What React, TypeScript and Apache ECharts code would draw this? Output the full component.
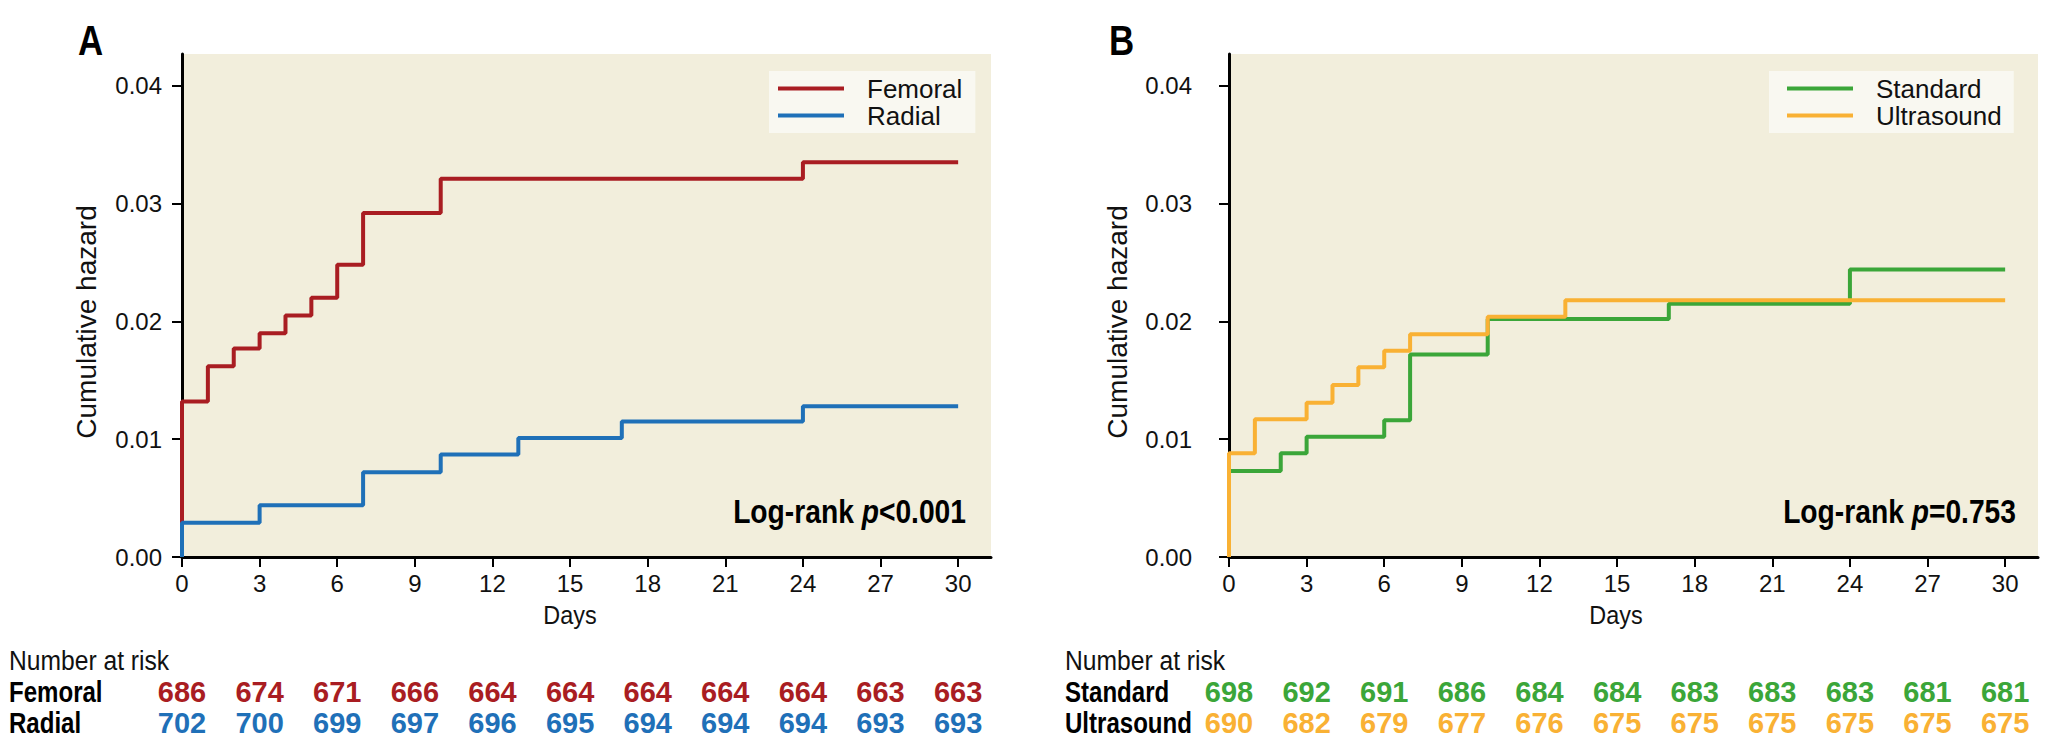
import React, { useEffect, useRef } from "react";
import * as echarts from "echarts";

// ---- data ----
const femoralDays = [0, 0, 1, 2, 3, 4, 5, 6, 7, 10, 24, 30];
const femoralHazard = [0, 0.0132, 0.0162, 0.0177, 0.019, 0.0205, 0.022, 0.0248, 0.0292, 0.0321, 0.0335, 0.0335];
const radialDays = [0, 0, 3, 7, 10, 13, 17, 24, 30];
const radialHazard = [0, 0.0029, 0.0044, 0.0072, 0.0087, 0.0101, 0.0115, 0.0128, 0.0128];
const standardDays = [0, 0, 2, 3, 6, 7, 10, 17, 24, 30];
const standardHazard = [0, 0.0073, 0.0088, 0.0102, 0.0116, 0.0172, 0.0202, 0.0215, 0.0244, 0.0244];
const ultrasoundDays = [0, 0, 1, 3, 4, 5, 6, 7, 10, 13, 30];
const ultrasoundHazard = [0, 0.0088, 0.0117, 0.0131, 0.0146, 0.0161, 0.0175, 0.0189, 0.0204, 0.0218, 0.0218];

const xTicks = [0, 3, 6, 9, 12, 15, 18, 21, 24, 27, 30];
const yTicks = [0, 0.01, 0.02, 0.03, 0.04];

const riskDays = [0, 3, 6, 9, 12, 15, 18, 21, 24, 27, 30];
const femoralRisk = [686, 674, 671, 666, 664, 664, 664, 664, 664, 663, 663];
const radialRisk = [702, 700, 699, 697, 696, 695, 694, 694, 694, 693, 693];
const standardRisk = [698, 692, 691, 686, 684, 684, 683, 683, 683, 681, 681];
const ultrasoundRisk = [690, 682, 679, 677, 676, 675, 675, 675, 675, 675, 675];

const RED = "#A91D22";
const BLUE = "#1F70B8";
const GREEN = "#3BA639";
const ORANGE = "#F9B134";
const BG = "#F2EEDC";
const LEGEND_BG = "#F9F8F1";

const SANS = '"Liberation Sans", Arial, sans-serif';
const SQUEEZE = 0.83;

const X_MAX = 31.27;
const Y_MAX = 0.0427;

function pairs(xs: number[], ys: number[]) {
  return xs.map((x, i) => [x, ys[i]]);
}

function plotXAxis(gridIndex: number) {
  return {
    type: "value",
    gridIndex,
    min: 0,
    max: X_MAX,
    splitLine: { show: false },
    axisLine: { show: true, onZero: false, lineStyle: { color: "#000", width: 3 } },
    axisTick: { show: true, length: 10, lineStyle: { color: "#000", width: 2 }, customValues: xTicks },
    axisLabel: {
      customValues: xTicks,
      margin: 14,
      fontSize: 24,
      fontFamily: SANS,
      color: "#111",
      formatter: (v: number) => String(v),
    },
  };
}

function plotYAxis(gridIndex: number, margin: number) {
  return {
    type: "value",
    gridIndex,
    min: 0,
    max: Y_MAX,
    splitLine: { show: false },
    axisLine: { show: true, onZero: false, lineStyle: { color: "#000", width: 3 } },
    axisTick: { show: true, length: 10, lineStyle: { color: "#000", width: 2 }, customValues: yTicks },
    axisLabel: {
      customValues: yTicks,
      margin,
      fontSize: 24,
      fontFamily: SANS,
      color: "#111",
      formatter: (v: number) => v.toFixed(2),
    },
  };
}

function tableXAxis(gridIndex: number) {
  return { type: "value", gridIndex, min: 0, max: X_MAX, show: false };
}

function tableYAxis(gridIndex: number, names: string[]) {
  return {
    type: "category",
    gridIndex,
    data: names,
    inverse: true,
    show: false,
  };
}

function stepSeries(name: string, xs: number[], ys: number[], color: string, axis: number) {
  return {
    type: "line",
    name,
    xAxisIndex: axis,
    yAxisIndex: axis,
    step: "end",
    symbol: "none",
    data: pairs(xs, ys),
    color,
    lineStyle: { color, width: 4 },
  };
}

function riskSeries(name: string, counts: number[], color: string, axis: number) {
  return {
    type: "scatter",
    name: name + " at risk",
    xAxisIndex: axis,
    yAxisIndex: axis,
    symbolSize: 1,
    itemStyle: { color: "rgba(0,0,0,0)" },
    data: riskDays.map((d, i) => [d, name, counts[i]]),
    label: {
      show: true,
      position: "inside",
      formatter: (p: any) => String(p.value[2]),
      color,
      opacity: 1,
      fontSize: 29,
      fontWeight: "bold",
      fontFamily: SANS,
    },
    silent: true,
  };
}

function legend(names: string[], left: number, top: number, padding: number[]) {
  return {
    data: names,
    orient: "vertical",
    left,
    top,
    padding,
    backgroundColor: LEGEND_BG,
    icon: "rect",
    itemWidth: 66,
    itemHeight: 4,
    itemGap: 0,
    selectedMode: false,
    textStyle: {
      fontSize: 26,
      lineHeight: 27,
      fontFamily: SANS,
      color: "#111",
      padding: [0, 0, 0, 18],
    },
  };
}

function label(text: string, x: number, y: number, size: number, opts: any = {}, scaleX = SQUEEZE) {
  return {
    type: "text",
    x,
    y,
    scaleX,
    silent: true,
    style: {
      text,
      fontSize: size,
      fontFamily: SANS,
      fill: "#000",
      align: "left",
      verticalAlign: "middle",
      ...opts,
    },
  };
}

function logRank(pText: string, x: number, y: number) {
  return {
    type: "text",
    x,
    y,
    scaleX: SQUEEZE,
    silent: true,
    style: {
      text: "{a|Log-rank }{b|p}{a|" + pText + "}",
      align: "right",
      verticalAlign: "middle",
      rich: {
        a: { fontSize: 34, fontWeight: "bold", fontFamily: SANS, fill: "#000" },
        b: { fontSize: 34, fontWeight: "bold", fontStyle: "italic", fontFamily: SANS, fill: "#000" },
      },
    },
  };
}

function yTitle(x: number, y: number) {
  return {
    type: "text",
    x,
    y,
    rotation: Math.PI / 2,
    silent: true,
    style: { text: "Cumulative hazard", fontSize: 28, fontFamily: SANS, fill: "#111", align: "center", verticalAlign: "middle" },
  };
}

export default function App() {
  const ref = useRef<HTMLDivElement>(null);
  useEffect(() => {
    if (!ref.current) return;
    const chart = echarts.init(ref.current, undefined, { renderer: "svg" });
    chart.setOption({
      animation: false,
      backgroundColor: "#fff",
      grid: [
        { left: 182, top: 54, width: 809, height: 503, show: true, backgroundColor: BG, borderWidth: 0 },
        { left: 1229, top: 54, width: 809, height: 503, show: true, backgroundColor: BG, borderWidth: 0 },
        { left: 182, top: 676, width: 809, height: 62 },
        { left: 1229, top: 676, width: 809, height: 62 },
      ],
      xAxis: [plotXAxis(0), plotXAxis(1), tableXAxis(2), tableXAxis(3)],
      yAxis: [
        plotYAxis(0, 20),
        plotYAxis(1, 37),
        tableYAxis(2, ["Femoral", "Radial"]),
        tableYAxis(3, ["Standard", "Ultrasound"]),
      ],
      legend: [
        legend(["Femoral", "Radial"], 769, 71, [4, 13, 4, 9]),
        legend(["Standard", "Ultrasound"], 1769, 71, [4, 12, 4, 18]),
      ],
      series: [
        stepSeries("Femoral", femoralDays, femoralHazard, RED, 0),
        stepSeries("Radial", radialDays, radialHazard, BLUE, 0),
        stepSeries("Standard", standardDays, standardHazard, GREEN, 1),
        stepSeries("Ultrasound", ultrasoundDays, ultrasoundHazard, ORANGE, 1),
        riskSeries("Femoral", femoralRisk, RED, 2),
        riskSeries("Radial", radialRisk, BLUE, 2),
        riskSeries("Standard", standardRisk, GREEN, 3),
        riskSeries("Ultrasound", ultrasoundRisk, ORANGE, 3),
      ],
      graphic: [
        label("A", 78, 40, 42, { fontWeight: "bold" }),
        label("B", 1109, 40, 42, { fontWeight: "bold" }),
        yTitle(86, 322),
        yTitle(1117, 322),
        label("Days", 570, 615, 26, { align: "center", fill: "#111" }, 0.9),
        label("Days", 1616, 615, 26, { align: "center", fill: "#111" }, 0.9),
        label("Number at risk", 9, 660, 28, { fill: "#111" }, 0.88),
        label("Number at risk", 1065, 660, 28, { fill: "#111" }, 0.88),
        label("Femoral", 9, 692, 29, { fontWeight: "bold" }),
        label("Radial", 9, 723, 29, { fontWeight: "bold" }),
        label("Standard", 1065, 692, 29, { fontWeight: "bold" }),
        label("Ultrasound", 1065, 723, 29, { fontWeight: "bold" }),
        logRank("<0.001", 966, 512),
        logRank("=0.753", 2016, 512),
      ],
    });
    return () => chart.dispose();
  }, []);
  return <div ref={ref} style={{ position: "absolute", left: 0, top: 0, width: 2067, height: 755 }} />;
}
